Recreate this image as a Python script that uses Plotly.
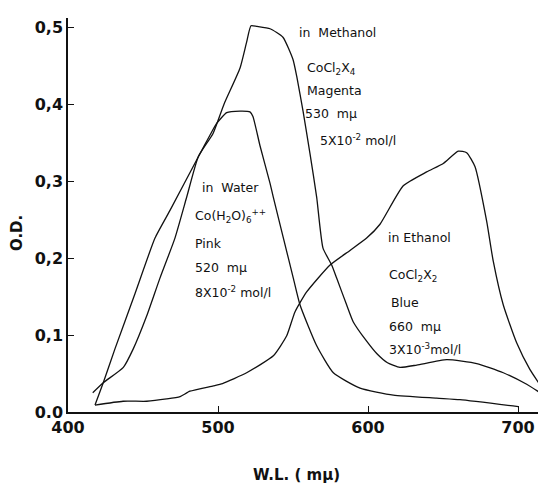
import plotly.graph_objects as go

# ---- data ----
methanol_wl = [416.5, 423.5, 436.9, 443.5, 452.5, 461.3, 471.3, 479.1, 486.9, 496.7, 504.0, 514.7,
               519.0, 522.0, 526.0, 534.7, 543.3, 550.0, 552.5, 556.7, 561.3, 565.8, 570.0, 575.8,
               579.1, 585.8, 590.2, 599.1, 605.8, 613.0, 621.3, 632.5, 652.5, 672.5, 690.2, 705.8,
               718.7]
methanol_od = [0.025, 0.038, 0.058, 0.082, 0.125, 0.174, 0.226, 0.279, 0.332, 0.362, 0.400, 0.447,
               0.480, 0.502, 0.501, 0.498, 0.487, 0.458, 0.436, 0.391, 0.336, 0.279, 0.213, 0.191,
               0.174, 0.139, 0.117, 0.092, 0.076, 0.064, 0.058, 0.061, 0.068, 0.063, 0.051, 0.036,
               0.020]

water_wl = [418.0, 423.5, 431.3, 444.7, 458.0, 468.0, 487.0, 494.7, 499.1, 505.8, 514.7, 521.3,
            523.3, 528.0, 534.7, 536.9, 543.6, 550.2, 554.7, 565.8, 576.9, 594.7, 616.9, 645.8,
            661.3, 700.2]
water_od = [0.009, 0.038, 0.082, 0.154, 0.226, 0.262, 0.332, 0.360, 0.375, 0.389, 0.391, 0.390,
            0.384, 0.346, 0.297, 0.279, 0.226, 0.174, 0.139, 0.086, 0.051, 0.031, 0.022, 0.018,
            0.016, 0.007]

ethanol_wl = [418.0, 436.7, 452.5, 465.8, 474.7, 481.3, 496.9, 503.0, 519.1, 536.9, 545.8, 551.3,
              559.1, 574.7, 588.0, 599.1, 608.0, 623.5, 639.1, 650.2, 660.2, 665.8, 671.3, 679.1,
              683.5, 690.2, 699.1, 708.0, 716.9, 718.7]
ethanol_od = [0.009, 0.014, 0.014, 0.017, 0.020, 0.027, 0.034, 0.037, 0.051, 0.073, 0.099, 0.130,
              0.156, 0.191, 0.210, 0.226, 0.244, 0.294, 0.312, 0.323, 0.339, 0.337, 0.319, 0.248,
              0.196, 0.139, 0.090, 0.055, 0.029, 0.024]

y_ticks = [0.0, 0.1, 0.2, 0.3, 0.4, 0.5]
y_tick_labels = ["0.0", "0,1", "0,2", "0,3", "0,4", "0,5"]
x_ticks = [400, 500, 600, 700]
x_tick_labels = ["400", "500", "600", "700"]

# page body has an 8px margin, so the figure is drawn 8px smaller and offset
OFF = 8
W, H = 546 - OFF, 486 - OFF
L, R, T, B = 68 - OFF, 0, 18 - OFF, 486 - 412
X0, X1 = 400, 718.67
Y0, Y1 = 0, 0.512

FONT = "DejaVu Sans"
INK = "#111"

fig = go.Figure()
for xs, ys in [(methanol_wl, methanol_od), (water_wl, water_od), (ethanol_wl, ethanol_od)]:
    fig.add_trace(go.Scatter(x=xs, y=ys, mode="lines",
                             line=dict(color=INK, width=1.3, shape="spline", smoothing=0.5),
                             showlegend=False, hoverinfo="skip"))


def fx(px):  # reference pixel -> paper fraction
    return (px - OFF - L) / (W - L - R)


def fy(py):
    return (H - B - (py - OFF)) / (H - B - T)


labels = [
    (297, 33, "in  Methanol"),
    (305, 68, "CoCl<sub>2</sub>X<sub>4</sub>"),
    (305, 91, "Magenta"),
    (303, 114, "530  mμ"),
    (318, 140, "5X10<sup>-2</sup> mol/l"),
    (200, 188, "in  Water"),
    (193, 216, "Co(H<sub>2</sub>O)<sub>6</sub><sup>++</sup>"),
    (193, 243, "Pink"),
    (193, 267, "520  mμ"),
    (193, 292, "8X10<sup>-2</sup> mol/l"),
    (386, 237, "in Ethanol"),
    (387, 275, "CoCl<sub>2</sub>X<sub>2</sub>"),
    (389, 302, "Blue"),
    (387, 326, "660  mμ"),
    (387, 349, "3X10<sup>-3</sup>mol/l"),
]
for px, py, t in labels:
    fig.add_annotation(xref="paper", yref="paper", x=fx(px), y=fy(py), text=t, showarrow=False,
                       xanchor="left", yanchor="middle", font=dict(family=FONT, size=12.5, color=INK))

fig.add_annotation(xref="paper", yref="paper", x=fx(296), y=fy(475), text="<b>W.L. ( mμ)</b>",
                   showarrow=False, xanchor="center", yanchor="middle",
                   font=dict(family=FONT, size=15, color=INK))
fig.add_annotation(xref="paper", yref="paper", x=fx(17), y=fy(233), text="<b>O.D.</b>", textangle=-90,
                   showarrow=False, xanchor="center", yanchor="middle",
                   font=dict(family=FONT, size=15, color=INK))

axis_common = dict(showgrid=False, zeroline=False, showline=True, linecolor=INK, linewidth=1.5,
                   ticks="inside", ticklen=6, tickcolor=INK, automargin=False,
                   tickfont=dict(family=FONT, size=16, color=INK, weight="bold"))
fig.update_layout(
    width=W, height=H, margin=dict(l=L, r=R, t=T, b=B, pad=0),
    paper_bgcolor="white", plot_bgcolor="white",
    xaxis=dict(range=[X0, X1], tickvals=x_ticks, ticktext=x_tick_labels, **axis_common),
    yaxis=dict(range=[Y0, Y1], tickvals=y_ticks, ticktext=y_tick_labels, **axis_common),
)

fig.write_html("out.html")
